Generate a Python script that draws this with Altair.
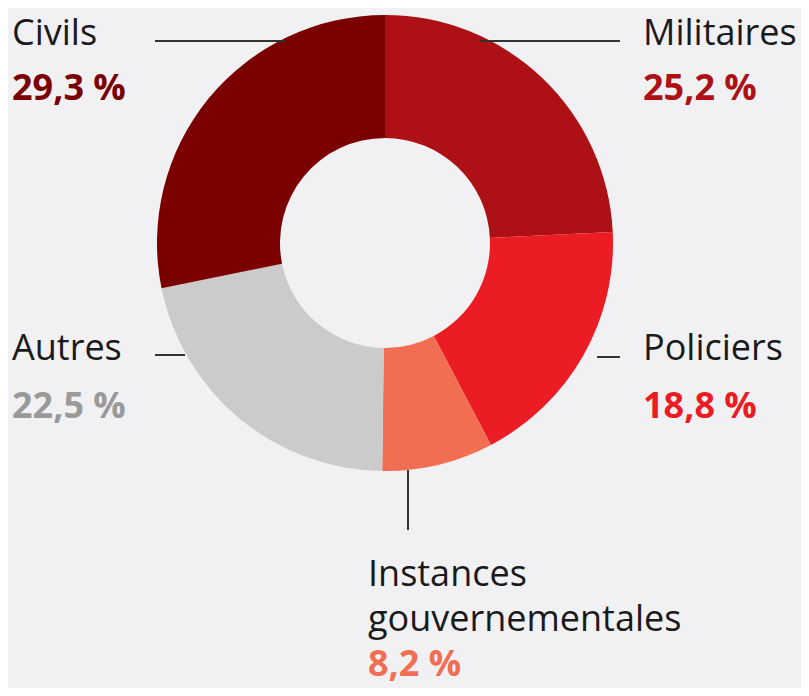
import altair as alt
import pandas as pd

# Data
categories = ["Militaires", "Policiers", "Instances gouvernementales", "Autres", "Civils"]
shares = [25.2, 18.8, 8.2, 22.5, 29.3]
value_labels = ["25,2 %", "18,8 %", "8,2 %", "22,5 %", "29,3 %"]
colors = ["#ad1116", "#ec1c24", "#f26e52", "#cbcbcb", "#7b0000"]
value_colors = ["#ad1116", "#ec1c24", "#f26e52", "#9a9a9a", "#7b0000"]

W, H = 793, 680
CX, CY = 377, 235

pie_df = pd.DataFrame({
    "cat": categories,
    "share": shares,
    "idx": list(range(len(categories))),
})

arc = alt.Chart(pie_df).mark_arc(outerRadius=228, innerRadius=105, stroke=None).encode(
    theta=alt.Theta("share:Q", stack=True),
    order=alt.Order("idx:Q"),
    color=alt.Color("cat:N", scale=alt.Scale(domain=categories, range=colors), legend=None),
    x=alt.value(CX),
    y=alt.value(CY),
)

# Label layout (pixel positions in chart coordinates)
name_lines = ["Militaires", "Policiers", "Instances", "gouvernementales", "Autres", "Civils"]
name_x = [635, 635, 360, 360, 4, 4]
name_y = [37, 352, 578, 623, 352, 37]

val_x = [635, 635, 360, 4, 4]
val_y = [92, 410, 668, 410, 92]

names_df = pd.DataFrame({"t": name_lines, "px": name_x, "py": name_y})
vals_df = pd.DataFrame({
    "t": value_labels,
    "px": val_x,
    "py": val_y,
    "cat": categories,
})

names = alt.Chart(names_df).mark_text(
    font="Open Sans", fontSize=36, align="left", baseline="alphabetic", color="#1a1a1a"
).encode(
    x=alt.X("px:Q", scale=None), y=alt.Y("py:Q", scale=None), text="t:N"
)

vals = alt.Chart(vals_df).mark_text(
    font="Open Sans", fontSize=36, fontWeight="bold", align="left", baseline="alphabetic"
).encode(
    x=alt.X("px:Q", scale=None), y=alt.Y("py:Q", scale=None), text="t:N",
    color=alt.Color("cat:N", scale=alt.Scale(domain=categories, range=value_colors), legend=None),
)

# Leader lines
lx1 = [472, 589, 400, 147, 147]
lx2 = [612, 612, 400, 177, 277]
ly1 = [33, 349, 462, 347, 33]
ly2 = [33, 349, 522, 347, 33]
lines_df = pd.DataFrame({"x1": lx1, "x2": lx2, "y1": ly1, "y2": ly2})

leaders = alt.Chart(lines_df).mark_rule(color="#333333", strokeWidth=2).encode(
    x=alt.X("x1:Q", scale=None), x2="x2:Q",
    y=alt.Y("y1:Q", scale=None), y2="y2:Q",
)

chart = alt.layer(arc, leaders, names, vals).resolve_scale(color="independent").properties(
    width=W, height=H, padding=0, autosize=alt.AutoSizeParams(type="none"),
    background="#f1f1f3",
).configure_view(stroke=None)

chart.save("out.html", embed_options={"renderer": "svg", "actions": False})
